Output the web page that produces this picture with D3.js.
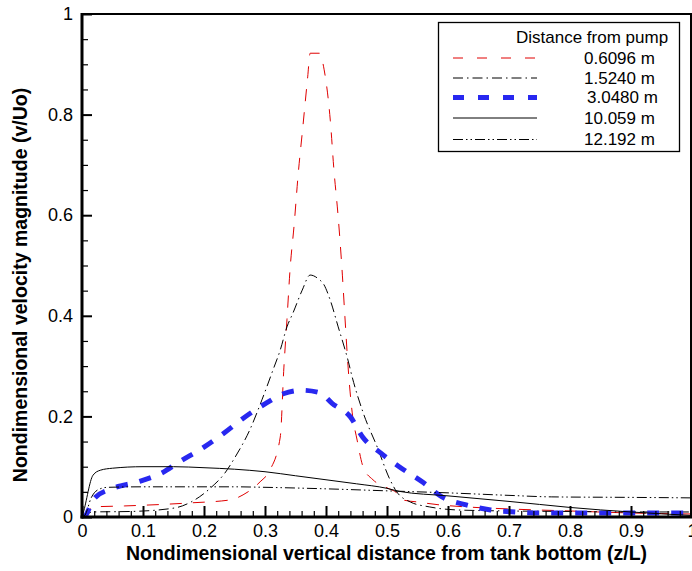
<!DOCTYPE html>
<html>
<head>
<meta charset="utf-8">
<script src="https://cdn.jsdelivr.net/npm/d3@7"></script>
<style>
	body { margin: 0; background: #fff; }
	svg { display: block; font-family: "Liberation Sans", Arial, sans-serif; }
</style>
</head>
<body>
<div id="chart"></div>
<script>
// data: [z/L, v/Uo]
const series_labels = ["0.6096 m", "1.5240 m", "3.0480 m", "10.059 m", "12.192 m"];
const legend_title = "Distance from pump";

const x_major = [0, 0.1, 0.2, 0.3, 0.4, 0.5, 0.6, 0.7, 0.8, 0.9, 1];
const x_labels = ["0", "0.1", "0.2", "0.3", "0.4", "0.5", "0.6", "0.7", "0.8", "0.9", "1"];
const y_major = [0, 0.2, 0.4, 0.6, 0.8, 1];
const y_labels = ["0", "0.2", "0.4", "0.6", "0.8", "1"];

const curve_0_6096 = [
	[0, 0], [0.005, 0.004], [0.018, 0.02], [0.07, 0.022], [0.177, 0.028], [0.243, 0.034],
	[0.264, 0.044], [0.292, 0.07], [0.308, 0.093], [0.325, 0.159], [0.331, 0.298],
	[0.336, 0.392], [0.341, 0.491], [0.348, 0.584], [0.354, 0.676], [0.362, 0.775],
	[0.37, 0.875], [0.374, 0.922], [0.389, 0.922], [0.397, 0.889], [0.407, 0.789],
	[0.413, 0.69], [0.42, 0.596], [0.426, 0.497], [0.431, 0.398], [0.436, 0.302],
	[0.443, 0.207], [0.451, 0.153], [0.461, 0.099], [0.477, 0.074], [0.5, 0.058],
	[0.516, 0.048], [0.526, 0.034], [0.549, 0.03], [0.587, 0.024], [0.631, 0.02],
	[0.7, 0.016], [0.8, 0.012], [0.9, 0.008], [1, 0.006]
];
const curve_1_5240 = [
	[0, 0], [0.005, 0.004], [0.018, 0.01], [0.08, 0.011], [0.152, 0.018], [0.179, 0.03],
	[0.211, 0.058], [0.234, 0.087], [0.251, 0.119], [0.275, 0.173], [0.295, 0.233],
	[0.313, 0.292], [0.325, 0.332], [0.336, 0.378], [0.346, 0.406], [0.361, 0.451],
	[0.374, 0.481], [0.39, 0.471], [0.395, 0.465], [0.407, 0.431], [0.42, 0.378],
	[0.428, 0.346], [0.436, 0.312], [0.443, 0.278], [0.461, 0.207], [0.484, 0.139],
	[0.505, 0.074], [0.516, 0.05], [0.538, 0.03], [0.57, 0.02], [0.615, 0.014],
	[0.7, 0.012], [0.8, 0.011], [0.9, 0.01], [1, 0.01]
];
const curve_3_0480 = [
	[0, 0], [0.005, 0.002], [0.013, 0.02], [0.021, 0.038], [0.048, 0.056], [0.092, 0.07],
	[0.13, 0.087], [0.16, 0.11], [0.2, 0.139], [0.233, 0.167], [0.265, 0.197],
	[0.3, 0.225], [0.33, 0.245], [0.36, 0.252], [0.39, 0.247], [0.41, 0.226],
	[0.44, 0.199], [0.46, 0.159], [0.49, 0.127], [0.52, 0.1], [0.56, 0.068],
	[0.59, 0.04], [0.63, 0.024], [0.67, 0.014], [0.71, 0.01], [0.75, 0.008],
	[0.8, 0.008], [0.9, 0.008], [1, 0.008]
];
const curve_10_059 = [
	[0, 0], [0.002, 0.008], [0.018, 0.083], [0.03, 0.093], [0.05, 0.097], [0.1, 0.1],
	[0.15, 0.1], [0.2, 0.098], [0.25, 0.095], [0.3, 0.09], [0.35, 0.082], [0.4, 0.074],
	[0.45, 0.066], [0.5, 0.057], [0.52, 0.051], [0.6, 0.042], [0.7, 0.031], [0.75, 0.025],
	[0.8, 0.019], [0.9, 0.01], [1, 0.003]
];
const curve_12_192 = [
	[0, 0], [0.005, 0.004], [0.015, 0.038], [0.026, 0.054], [0.042, 0.059], [0.1, 0.06],
	[0.2, 0.06], [0.25, 0.06], [0.3, 0.059], [0.4, 0.056], [0.5, 0.052], [0.6, 0.048],
	[0.7, 0.043], [0.77, 0.04], [0.9, 0.039], [1, 0.038]
];

const curves = [curve_0_6096, curve_1_5240, curve_3_0480, curve_10_059, curve_12_192];

// line looks for each series
const line_styles = [
	{color: "#e00000", width: 1, dash: "12,11"},
	{color: "#000000", width: 1, dash: "10,4,1.5,4"},
	{color: "#2828f0", width: 5, dash: "12,12"},
	{color: "#000000", width: 1, dash: null},
	{color: "#000000", width: 1, dash: "10,3,1.5,3,1.5,3"}
];

class profile_chart {

	constructor(opts) {
		this.element = opts.element;
		this.w = 692;
		this.h = 571;
		this.margin = {top: 14, left: 82};
		this.width = 610;
		this.height = 503;
		this.init();
	}

	init() {
		this.svg = d3.select(this.element).append("svg")
			.attr("width", this.w)
			.attr("height", this.h);
		this.g = this.svg.append("g")
			.attr("transform", `translate(${this.margin.left},${this.margin.top})`);

		this.create_scales();
		this.create_lines();
		this.create_axes();
		this.create_legend();
	}

	create_scales() {
		this.x_scale = d3.scaleLinear().domain([0, 1]).range([0, this.width]);
		this.y_scale = d3.scaleLinear().domain([0, 1]).range([this.height, 0]);
	}

	create_lines() {
		this.g.append("clipPath").attr("id", "plot_clip")
			.append("rect")
			.attr("width", this.width)
			.attr("height", this.height);

		const line = d3.line()
			.x(d => this.x_scale(d[0]))
			.y(d => this.y_scale(d[1]))
			.curve(d3.curveMonotoneX);

		this.g.append("g")
			.attr("clip-path", "url(#plot_clip)")
			.selectAll("path")
			.data(curves)
			.enter()
			.append("path")
			.attr("d", line)
			.attr("fill", "none")
			.attr("stroke", (d, i) => line_styles[i].color)
			.attr("stroke-width", (d, i) => line_styles[i].width)
			.attr("stroke-dasharray", (d, i) => line_styles[i].dash);
	}

	create_axes() {
		const x_minor = d3.range(0, 101, 2).map(d => d / 100).filter(d => Math.round(d * 100) % 10 !== 0);
		const y_minor = d3.range(0, 101, 5).map(d => d / 100).filter(d => Math.round(d * 100) % 20 !== 0);

		// minor ticks, pointing into the plot
		this.g.append("g")
			.attr("transform", `translate(0,${this.height})`)
			.call(d3.axisBottom(this.x_scale).tickValues(x_minor).tickSize(-6).tickFormat(""))
			.call(a => a.select(".domain").remove())
			.selectAll("line").attr("stroke-width", 1.2);

		this.g.append("g")
			.call(d3.axisLeft(this.y_scale).tickValues(y_minor).tickSize(-6).tickFormat(""))
			.call(a => a.select(".domain").remove())
			.selectAll("line").attr("stroke-width", 1.2);

		// major ticks
		const x_axis = this.g.append("g")
			.attr("transform", `translate(0,${this.height})`)
			.call(d3.axisBottom(this.x_scale).tickValues(x_major).tickSize(-11).tickPadding(7)
				.tickFormat((d, i) => x_labels[i]));
		x_axis.select(".domain").remove();
		x_axis.selectAll("line").attr("stroke-width", 2);
		x_axis.selectAll("text").attr("font-size", 18).attr("font-family", "Liberation Sans, Arial, sans-serif");

		const y_axis = this.g.append("g")
			.call(d3.axisLeft(this.y_scale).tickValues(y_major).tickSize(-10).tickPadding(9)
				.tickFormat((d, i) => y_labels[i]));
		y_axis.select(".domain").remove();
		y_axis.selectAll("line").attr("stroke-width", 2);
		y_axis.selectAll("text").attr("font-size", 18).attr("font-family", "Liberation Sans, Arial, sans-serif");

		// frame
		this.g.append("line")
			.attr("x1", 0).attr("x2", this.width)
			.attr("y1", 0).attr("y2", 0)
			.attr("stroke", "#000").attr("stroke-width", 2);
		this.g.append("line")
			.attr("x1", this.width - 1).attr("x2", this.width - 1)
			.attr("y1", 0).attr("y2", this.height)
			.attr("stroke", "#000").attr("stroke-width", 2);
		this.g.append("line")
			.attr("x1", 0).attr("x2", 0)
			.attr("y1", -1).attr("y2", this.height + 1.5)
			.attr("stroke", "#000").attr("stroke-width", 3);
		this.g.append("line")
			.attr("x1", -1.5).attr("x2", this.width)
			.attr("y1", this.height).attr("y2", this.height)
			.attr("stroke", "#000").attr("stroke-width", 3);

		// axis titles
		this.svg.append("text")
			.attr("x", this.margin.left + this.width / 2 - 0.5)
			.attr("y", 560)
			.attr("text-anchor", "middle")
			.attr("font-size", 19.5)
			.attr("font-weight", "bold")
			.text("Nondimensional vertical distance from tank bottom (z/L)");

		this.svg.append("text")
			.attr("transform", `translate(27,285) rotate(-90)`)
			.attr("text-anchor", "middle")
			.attr("font-size", 19.5)
			.attr("font-weight", "bold")
			.text("Nondimensional velocity magnitude (v/Uo)");
	}

	create_legend() {
		const legend = this.svg.append("g").attr("class", "legend");
		legend.append("rect")
			.attr("x", 438.5).attr("y", 22.5)
			.attr("width", 241).attr("height", 129)
			.attr("fill", "#fff")
			.attr("stroke", "#000")
			.attr("stroke-width", 1.3);

		legend.append("text")
			.attr("x", 516).attr("y", 43)
			.attr("font-size", 17)
			.text(legend_title);

		const row_y = [58, 78, 97.5, 118, 139.5];
		const text_x = [584, 584, 587, 584, 584];

		const rows = legend.selectAll(".row")
			.data(series_labels)
			.enter()
			.append("g")
			.attr("class", "row");

		rows.append("line")
			.attr("x1", 453).attr("x2", 537)
			.attr("y1", (d, i) => row_y[i]).attr("y2", (d, i) => row_y[i])
			.attr("stroke", (d, i) => line_styles[i].color)
			.attr("stroke-width", (d, i) => line_styles[i].width)
			.attr("stroke-dasharray", (d, i) => i === 0 ? "10,14" : (i === 2 ? "11,14" : line_styles[i].dash));

		rows.append("text")
			.attr("x", (d, i) => text_x[i])
			.attr("y", (d, i) => row_y[i])
			.attr("dy", "0.35em")
			.attr("font-size", 17)
			.text(d => d);
	}
}

new profile_chart({element: "#chart"});
</script>
</body>
</html>
